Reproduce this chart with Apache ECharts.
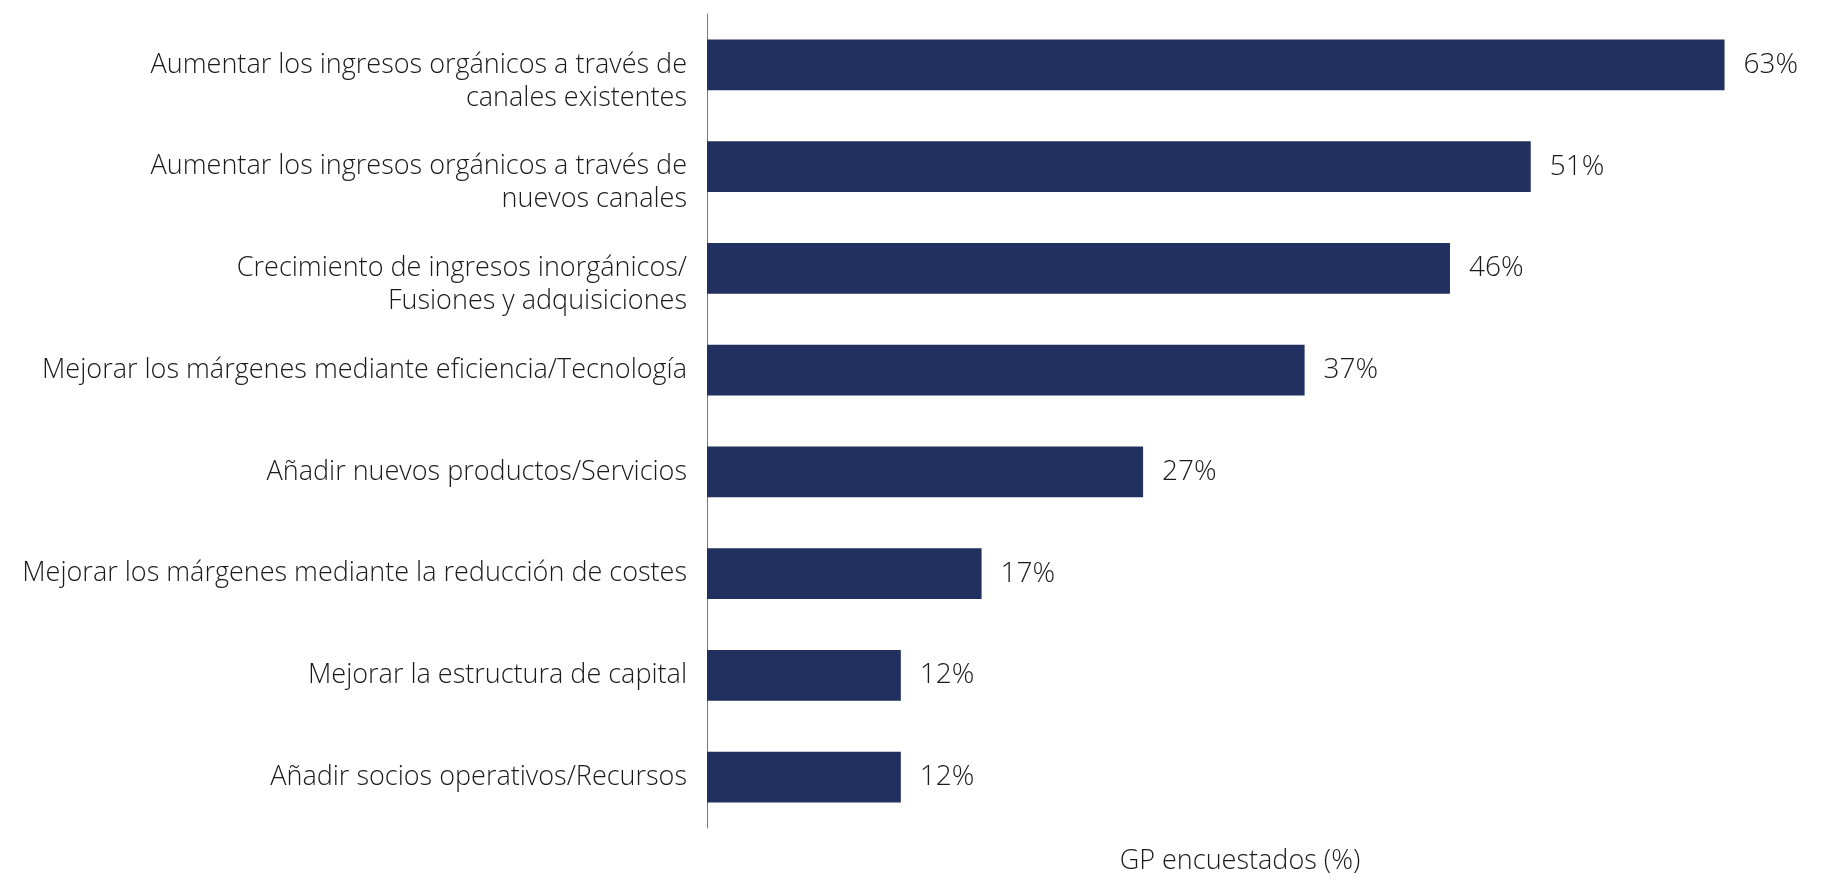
<!DOCTYPE html>
<html>
<head>
<meta charset="utf-8">
<style>
  html, body { margin: 0; padding: 0; background: #fff; }
  #chart { width: 1830px; height: 880px; }
</style>
<script src="https://cdn.jsdelivr.net/npm/echarts@6/dist/echarts.min.js"></script>
</head>
<body>
<div id="chart"></div>
<script>
var categories = [
  'Aumentar los ingresos orgánicos a través de\ncanales existentes',
  'Aumentar los ingresos orgánicos a través de\nnuevos canales',
  'Crecimiento de ingresos inorgánicos/\nFusiones y adquisiciones',
  'Mejorar los márgenes mediante eficiencia/Tecnología',
  'Añadir nuevos productos/Servicios',
  'Mejorar los márgenes mediante la reducción de costes',
  'Mejorar la estructura de capital',
  'Añadir socios operativos/Recursos'
];
var values = [63, 51, 46, 37, 27, 17, 12, 12];
var axisName = 'GP encuestados (%)';

var chart = echarts.init(document.getElementById('chart'));
var fontFamily = '"Open Sans", Lato, sans-serif';

var option = {
  animation: false,
  grid: { left: 707, right: 57, top: 14, bottom: 47 },
  xAxis: {
    type: 'value',
    min: 0,
    max: 66,
    name: axisName,
    nameLocation: 'middle',
    nameGap: 20,
    nameTextStyle: { fontFamily: fontFamily, fontSize: 27, fontWeight: 300, color: '#1a1a1a' },
    axisLine: { show: false },
    axisTick: { show: false },
    axisLabel: { show: false },
    splitLine: { show: false }
  },
  yAxis: {
    type: 'category',
    inverse: true,
    data: categories,
    axisLine: { show: true, lineStyle: { color: '#777', width: 1 } },
    axisTick: { show: false },
    axisLabel: {
      margin: 20,
      fontFamily: fontFamily,
      fontSize: 27,
      fontWeight: 300,
      lineHeight: 33,
      color: '#1a1a1a',
      align: 'right',
      // first line sits on the bar centre, wrapped line hangs below it
      formatter: function (v) {
        return v.indexOf('\n') >= 0 ? '\n' + v : v;
      }
    }
  },
  series: [{
    type: 'bar',
    data: values,
    barCategoryGap: '50%',
    itemStyle: { color: '#21305f' },
    label: {
      show: true,
      position: 'right',
      distance: 19,
      formatter: '{c}%',
      fontFamily: fontFamily,
      fontSize: 28,
      fontWeight: 300,
      color: '#1a1a1a'
    }
  }]
};
chart.setOption(option);
</script>
</body>
</html>
